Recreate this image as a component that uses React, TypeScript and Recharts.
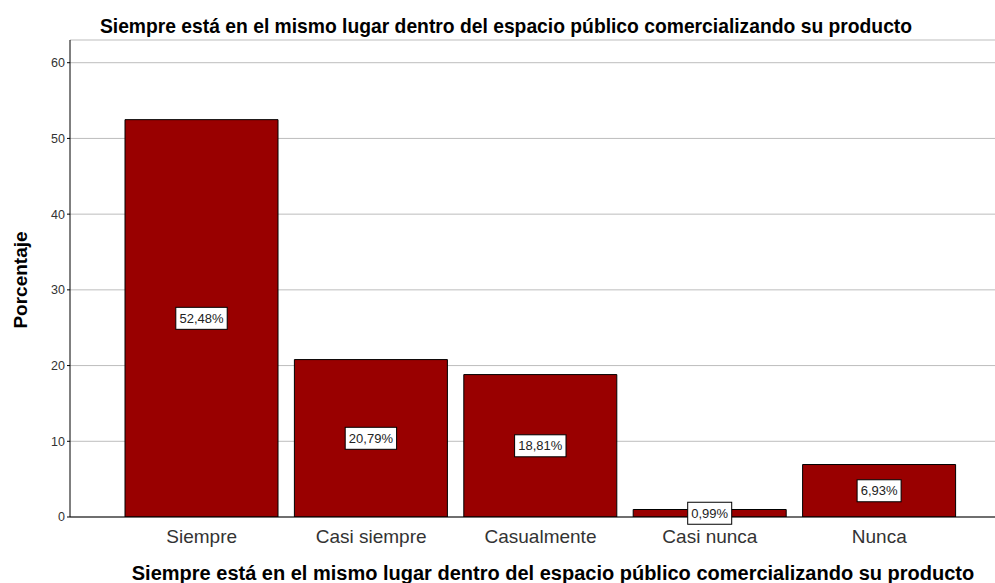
import React from "react";
import { BarChart, Bar, XAxis, YAxis, CartesianGrid, LabelList } from "recharts";

const categories = ["Siempre", "Casi siempre", "Casualmente", "Casi nunca", "Nunca"];
const percentages = [52.48, 20.79, 18.81, 0.99, 6.93];
const yTicks = [0, 10, 20, 30, 40, 50, 60];

const title = "Siempre está en el mismo lugar dentro del espacio público comercializando su producto";

const data = categories.map((name, i) => ({ name, value: percentages[i] }));

const font = "Arial, 'Liberation Sans', sans-serif";

function BoxLabel(props: any) {
  const { x, y, width, height, value } = props;
  const text = value.toFixed(2).replace(".", ",") + "%";
  const cx = x + width / 2;
  const cy = y + height / 2;
  const w = text.length * 7.4 + 7;
  return (
    <g>
      <rect x={cx - w / 2} y={cy - 11} width={w} height={22} fill="#fff" stroke="#000" strokeWidth={1} />
      <text x={cx} y={cy + 4.5} textAnchor="middle" fontSize={13} fontFamily={font} fill="#222">
        {text}
      </text>
    </g>
  );
}

export default function App() {
  return (
    <div style={{ position: "absolute", left: 0, top: 0, width: 995, height: 583, background: "#fff" }}>
      <BarChart
        width={995}
        height={583}
        data={data}
        margin={{ top: 40, right: 0, bottom: 0, left: 0 }}
        barCategoryGap={8}
      >
        <CartesianGrid horizontal vertical={false} stroke="#bdbdbd" />
        <XAxis
          dataKey="name"
          axisLine={{ stroke: "#000" }}
          tickLine={false}
          height={66}
          padding={{ left: 47, right: 31 }}
          tick={{ fill: "#333", fontSize: 19, fontFamily: font }}
          dy={5}
          interval={0}
        />
        <YAxis
          width={70}
          domain={[0, 63]}
          ticks={yTicks}
          axisLine={{ stroke: "#000" }}
          tickLine={{ stroke: "#000" }}
          tickSize={3}
          tick={{ fill: "#333", fontSize: 12.5, fontFamily: font }}
          allowDataOverflow
        />
        <Bar dataKey="value" fill="#990000" stroke="#000" strokeWidth={1} isAnimationActive={false}>
          <LabelList dataKey="value" content={BoxLabel} />
        </Bar>
        <text x={506} y={32.5} textAnchor="middle" fontSize={19.3} fontWeight="bold" fontFamily={font} fill="#000">
          {title}
        </text>
        <text x={553} y={580} textAnchor="middle" fontSize={20} fontWeight="bold" fontFamily={font} fill="#000">
          {title}
        </text>
        <text
          x={27}
          y={280}
          transform="rotate(-90 27 280)"
          textAnchor="middle"
          fontSize={19}
          fontWeight="bold"
          fontFamily={font}
          fill="#000"
        >
          Porcentaje
        </text>
      </BarChart>
    </div>
  );
}
